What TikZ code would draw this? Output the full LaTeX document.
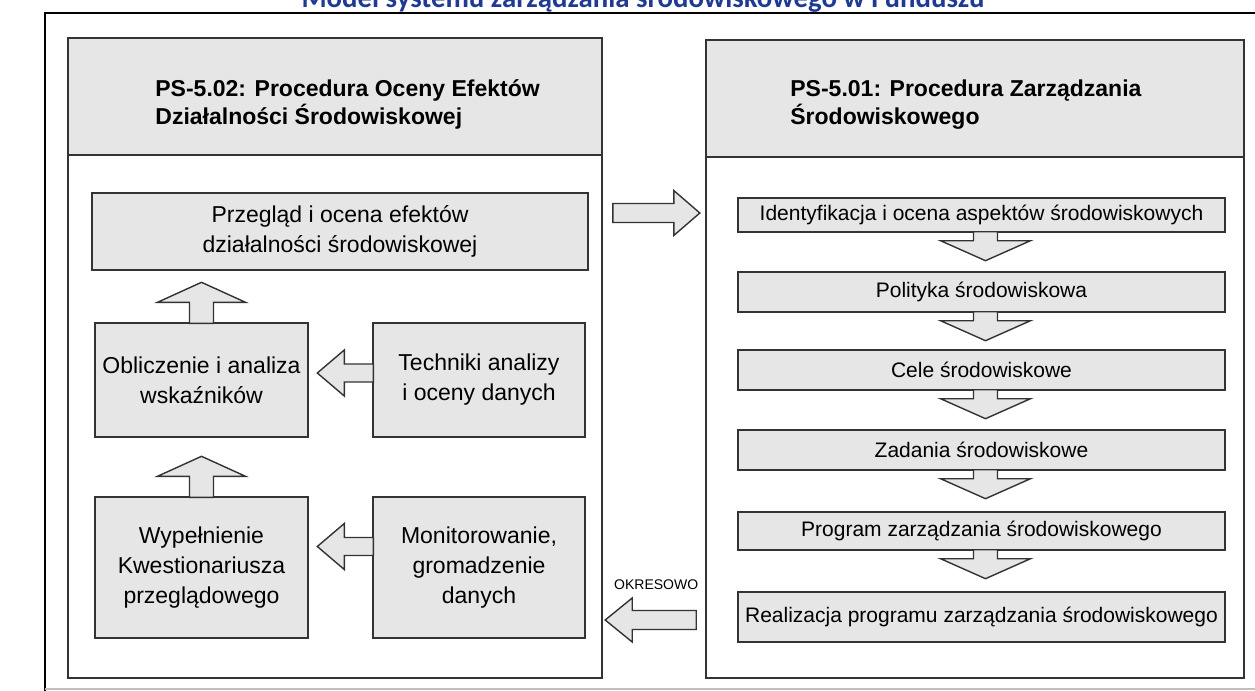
\documentclass[tikz,border=0pt]{standalone}
\usepackage{fontspec}
\setmainfont{Liberation Sans}
\newfontfamily\titlefont{Carlito}
\usetikzlibrary{calc,fit,shadows}
\definecolor{tytul}{HTML}{1F3A93}
\definecolor{szary}{HTML}{E6E6E6}
\definecolor{ramka}{HTML}{333333}
\tikzset{
  panel/.style={draw=ramka, line width=0.8pt, fill=white, inner sep=0pt},
  naglowek/.style={draw=ramka, line width=0.8pt, fill=szary, inner sep=0pt},
  hdrtekst/.style={anchor=north west, align=left, inner sep=0pt,
    font=\bfseries\fontsize{11.5}{14}\selectfont},
  blok/.style={draw=ramka, line width=0.7pt, fill=szary, inner sep=0pt,
    align=center, minimum width=243.5pt,
    drop shadow={shadow xshift=0.5pt, shadow yshift=-0.7pt, opacity=0.6}},
  lblok/.style={blok, font=\fontsize{11.5}{15}\selectfont},
  rblok/.style={blok, font=\fontsize{10.5}{13}\selectfont},
  strz/.style={draw=ramka, line width=0.7pt, fill=szary, line join=miter},
}
\begin{document}
\begin{tikzpicture}[x=0.5pt, y=-0.5pt]
\useasboundingbox (0,0) rectangle (1255,691);

% tytul (ucieta gora)
\node[anchor=base, inner sep=0pt, text=tytul,
  font=\titlefont\bfseries\fontsize{14.4}{15}\selectfont] (tytul) at (643,7)
  {Model systemu zarządzania środowiskowego w Funduszu};
\draw[line width=1pt] (45,691) -- (45,13) -- (1255,13);
\draw[black!25, line width=0.8pt] (45,689) -- (1255,689);

% panele
\node[panel, fit={(68,38) (602,678)}] (lpanel) {};
\node[naglowek, fit={(68,38) (602,155)}] (lhead) {};
\node[hdrtekst] (lhdr) at (155,79)
  {PS-5.02: Procedura Oceny Efektów\\Działalności Środowiskowej};
\node[panel, fit={(706,40) (1244,678)}] (rpanel) {};
\node[naglowek, fit={(706,40) (1244,157)}] (rhead) {};
\node[hdrtekst] (rhdr) at (790,79)
  {PS-5.01: Procedura Zarządzania\\Środowiskowego};

% lewa strona
\node[lblok, minimum width=248pt, minimum height=38.5pt] (przeglad) at (340,231.5)
  {Przegląd i ocena efektów\\działalności środowiskowej};
\node[lblok, minimum width=106.5pt, minimum height=57pt] (oblicz) at (201.5,380)
  {Obliczenie i analiza\\wskaźników};
\node[lblok, minimum width=106pt, minimum height=57pt] (techn) at (479,380)
  {Techniki analizy\\i oceny danych};
\node[lblok, minimum width=106.5pt, minimum height=70.5pt] (wypel) at (201.5,567.5)
  {Wypełnienie\\Kwestionariusza\\przeglądowego};
\node[lblok, minimum width=106pt, minimum height=70.5pt] (monit) at (479,567.5)
  {Monitorowanie,\\gromadzenie\\danych};

\foreach \b in {oblicz,wypel}
  \draw[strz, shift={(\b.north)}] (-12,1) -- (-12,-20) -- (-44,-20) -- (0,-40)
    -- (44,-20) -- (12,-20) -- (12,1) -- cycle;
\draw[strz, shift={($(techn.west)+(0,-7)$)}] (1,-9) -- (-28,-9) -- (-28,-23)
  -- (-55,0) -- (-28,23) -- (-28,9) -- (1,9) -- cycle;
\draw[strz, shift={($(monit.west)+(0,-21)$)}] (1,-9) -- (-28,-9) -- (-28,-23)
  -- (-55,0) -- (-28,23) -- (-28,9) -- (1,9) -- cycle;

% prawa strona
\node[rblok, minimum height=17pt] (ident) at (981.5,215)
  {Identyfikacja i ocena aspektów środowiskowych};
\node[rblok, minimum height=20pt] (polit) at (981.5,292) {Polityka środowiskowa};
\node[rblok, minimum height=20pt] (cele) at (981.5,370) {Cele środowiskowe};
\node[rblok, minimum height=20pt] (zad) at (981.5,450) {Zadania środowiskowe};
\node[rblok, minimum height=19pt] (prog) at (981.5,531)
  {Program zarządzania środowiskowego};
\node[rblok, minimum height=25pt] (realiz) at (981.5,617)
  {Realizacja programu zarządzania środowiskowego};

\foreach \b in {ident,polit,cele,zad,prog}
  \draw[strz, shift={($(\b.south)+(4,0)$)}] (-12,-1) -- (-12,8) -- (-45,8)
    -- (0,28) -- (45,8) -- (12,8) -- (12,-1) -- cycle;

% pomiedzy panelami
\draw[strz, shift={($(lpanel.east |- ident.west)+(0,-2)$)}] (10,-9.5) -- (71,-9.5)
  -- (71,-22.5) -- (97,0) -- (71,22.5) -- (71,9.5) -- (10,9.5) -- cycle;
\draw[strz, shift={($(rpanel.west |- realiz.west)+(0,3)$)}] (-9,-9.5) -- (-73,-9.5)
  -- (-73,-22) -- (-100,0) -- (-73,22) -- (-73,9.5) -- (-9,9.5) -- cycle;
\node[font=\fontsize{7}{8}\selectfont, inner sep=0pt] (okres)
  at ($(rpanel.west |- realiz.west)+(-49,-32)$) {OKRESOWO};
\end{tikzpicture}
\end{document}
